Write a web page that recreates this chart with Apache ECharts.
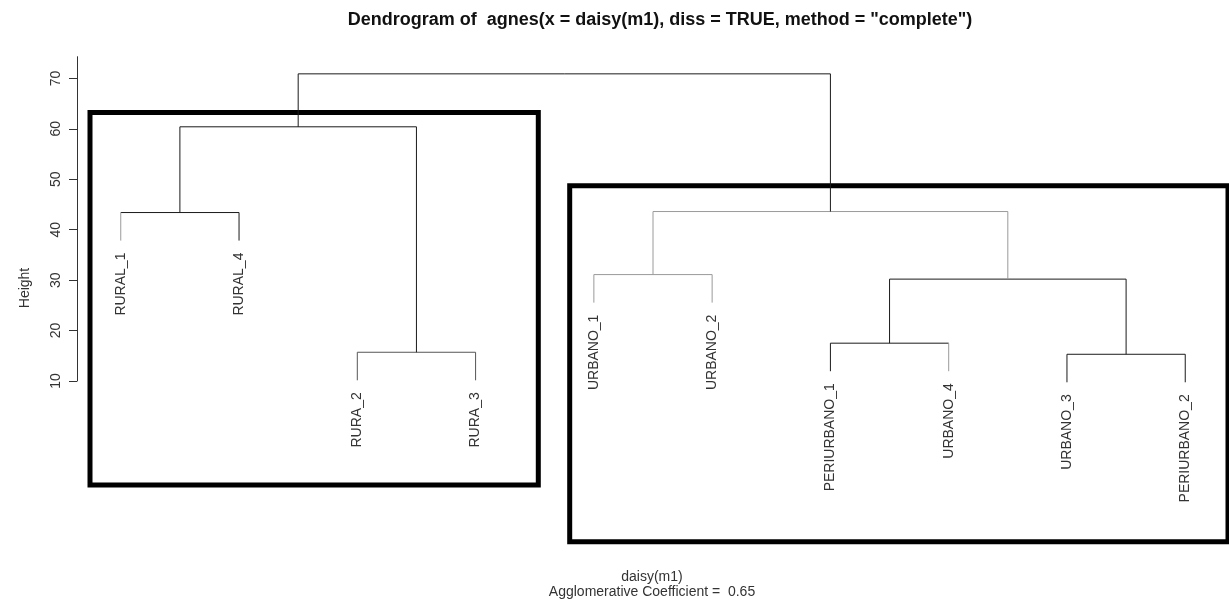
<!DOCTYPE html>
<html><head><meta charset="utf-8">
<script src="https://cdn.jsdelivr.net/npm/echarts@6/dist/echarts.min.js"></script>
<style>html,body{margin:0;padding:0;background:#fff}#c{width:1229px;height:607px}</style>
</head><body><div id="c"></div>
<script>
// ---- data ----
const leafLabels = ['RURAL_1','RURAL_4','RURA_2','RURA_3','URBANO_1','URBANO_2','PERIURBANO_1','URBANO_4','URBANO_3','PERIURBANO_2'];
// merge steps (R style): negative = leaf (1-based), positive = earlier merge step
const mergeA = [-9, -3, -7, 3, -5, -1, 5, 6, 8];
const mergeB = [-10, -4, -8, 1, -6, -2, 4, 2, 7];
const mergeHeight = [15.3, 15.7, 17.5, 30.2, 31.1, 43.4, 43.6, 60.4, 70.9];
const yTicks = [10, 20, 30, 40, 50, 60, 70];
const titleText = 'Dendrogram of  agnes(x = daisy(m1), diss = TRUE, method = "complete")';
const xLabel = 'daisy(m1)';
const subLabel = 'Agglomerative Coefficient =  0.65';
const yLabel = 'Height';

// ---- styling (segment colours, not data) ----
const greySegs = new Set(['a6','h5','a5','b5','h7','a7','b7','b3']);
const midSegs = new Set(['h2','a2','b2']);
const FONT = '"Liberation Sans", Arial, sans-serif';

// ---- build dendrogram geometry from the merge table ----
const hMin = Math.min(...mergeHeight), hMax = Math.max(...mergeHeight);
const hang = 0.1 * (hMax - hMin);
const mergeX = [];
const nodeX = n => n < 0 ? -n : mergeX[n - 1];
const leafEnd = {};
const segments = []; // [x1,y1,x2,y2]
const segIds = [];
mergeA.forEach((a, i) => {
  const b = mergeB[i], h = mergeHeight[i];
  const xa = nodeX(a), xb = nodeX(b);
  mergeX.push((xa + xb) / 2);
  const ya = a < 0 ? h - hang : mergeHeight[a - 1];
  const yb = b < 0 ? h - hang : mergeHeight[b - 1];
  if (a < 0) leafEnd[-a] = ya;
  if (b < 0) leafEnd[-b] = yb;
  segments.push([xa, h, xb, h]); segIds.push('h' + (i + 1));
  segments.push([xa, h, xa, ya]); segIds.push('a' + (i + 1));
  segments.push([xb, h, xb, yb]); segIds.push('b' + (i + 1));
});
const labelData = leafLabels.map((name, i) => [i + 1, leafEnd[i + 1], name]);

const chart = echarts.init(document.getElementById('c'), null, {renderer: 'canvas'});
chart.setOption({
  backgroundColor: '#fff',
  animation: false,
  grid: {left: 77, top: 56.7, width: 1158.1, height: 324.3, containLabel: false},
  xAxis: {type: 'value', min: 0.63, max: 10.37, show: false},
  yAxis: {
    type: 'value', min: 10, max: 74.3,
    axisLine: {show: true, lineStyle: {color: '#333', width: 1}},
    axisTick: {show: true, length: 8, customValues: yTicks, lineStyle: {color: '#333'}},
    axisLabel: {customValues: yTicks, rotate: 90, margin: 14, fontSize: 14, color: '#333', fontFamily: FONT},
    splitLine: {show: false}
  },
  series: [
    {
      type: 'custom', clip: false, silent: true,
      data: segments,
      renderItem: (params, api) => {
        const p1 = api.coord([api.value(0), api.value(1)]);
        const p2 = api.coord([api.value(2), api.value(3)]);
        const id = segIds[params.dataIndex];
        const col = greySegs.has(id) ? '#9a9a9a' : (midSegs.has(id) ? '#555' : '#1a1a1a');
        return {type: 'line', shape: {x1: p1[0], y1: p1[1], x2: p2[0], y2: p2[1]},
                style: {stroke: col, lineWidth: 1}};
      }
    },
    {
      type: 'custom', clip: false, silent: true,
      data: labelData,
      renderItem: (params, api) => {
        const p = api.coord([api.value(0), api.value(1)]);
        return {type: 'text', x: p[0], y: p[1] + 12, rotation: Math.PI / 2,
                style: {text: labelData[params.dataIndex][2], align: 'right', verticalAlign: 'middle',
                        font: '14px ' + FONT, fill: '#333'}};
      }
    }
  ],
  graphic: [
    {type: 'text', x: 660, y: 20, style: {text: titleText, align: 'center', verticalAlign: 'middle', font: 'bold 18px ' + FONT, fill: '#111'}},
    {type: 'text', x: 25, y: 288, rotation: Math.PI / 2, style: {text: yLabel, align: 'center', verticalAlign: 'middle', font: '14px ' + FONT, fill: '#333'}},
    {type: 'text', x: 652, y: 577, style: {text: xLabel, align: 'center', verticalAlign: 'middle', font: '14px ' + FONT, fill: '#333'}},
    {type: 'text', x: 652, y: 592, style: {text: subLabel, align: 'center', verticalAlign: 'middle', font: '14px ' + FONT, fill: '#333'}},
    {type: 'rect', shape: {x: 90, y: 112.5, width: 448.3, height: 372.5}, style: {fill: 'none', stroke: '#000', lineWidth: 5}},
    {type: 'rect', shape: {x: 569.7, y: 185.8, width: 658.3, height: 356}, style: {fill: 'none', stroke: '#000', lineWidth: 5}}
  ]
});
</script></body></html>
